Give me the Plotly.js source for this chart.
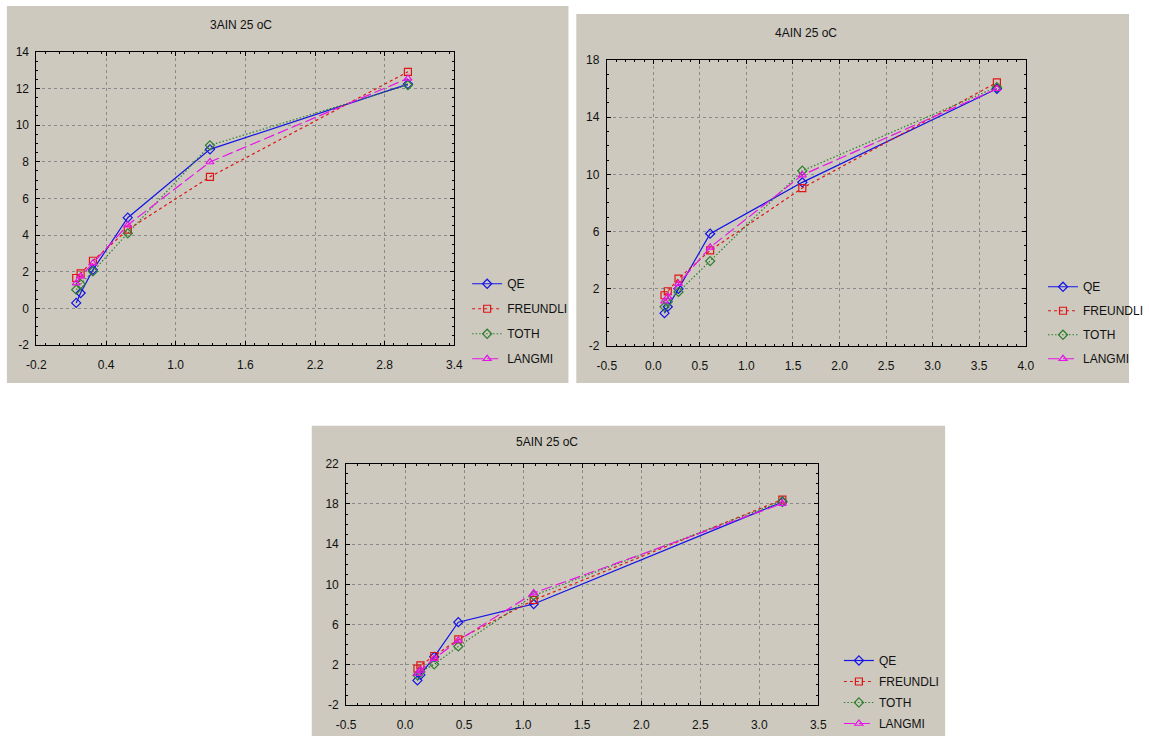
<!DOCTYPE html>
<html>
<head>
<meta charset="utf-8">
<script src="https://cdn.plot.ly/plotly-3.0.1.min.js"></script>
<style>html,body{margin:0;padding:0;background:#fff;}#chart{width:1149px;height:738px;}</style>
</head>
<body>
<div id="chart"></div>
<script>
// ---- data ----
var seriesNames = ["QE", "FREUNDLI", "TOTH", "LANGMI"];
var titles = ["3AIN 25 oC", "4AIN 25 oC", "5AIN 25 oC"];

var p1_x  = [0.143, 0.181, 0.287, 0.587, 1.295, 3.0];
var p1_qe = [0.30, 0.84, 2.10, 4.95, 8.68, 12.24];
var p1_fr = [1.66, 1.91, 2.60, 4.30, 7.18, 12.91];
var p1_to = [1.02, 1.33, 2.02, 4.10, 8.90, 12.19];
var p1_la = [1.38, 1.75, 2.47, 4.55, 7.99, 12.55];

var p2_x  = [0.12, 0.155, 0.27, 0.61, 1.60, 3.69];
var p2_qe = [0.30, 0.75, 2.00, 5.85, 9.44, 15.98];
var p2_fr = [1.55, 1.83, 2.71, 4.68, 9.04, 16.42];
var p2_to = [0.74, 1.09, 1.78, 3.94, 10.25, 16.10];
var p2_la = [1.13, 1.43, 2.36, 4.90, 9.95, 15.98];

var p3_x  = [0.104, 0.129, 0.246, 0.45, 1.089, 3.196];
var p3_qe = [0.45, 1.00, 2.80, 6.24, 8.05, 18.20];
var p3_fr = [1.62, 1.95, 2.88, 4.53, 8.45, 18.44];
var p3_to = [0.96, 1.30, 2.05, 3.83, 8.90, 18.27];
var p3_la = [1.13, 1.46, 2.61, 4.43, 9.14, 18.04];

var x1Ticks = [-0.2, 0.4, 1.0, 1.6, 2.2, 2.8, 3.4];
var y1Ticks = [-2, 0, 2, 4, 6, 8, 10, 12, 14];
var x2Ticks = [-0.5, 0.0, 0.5, 1.0, 1.5, 2.0, 2.5, 3.0, 3.5, 4.0];
var y2Ticks = [-2, 2, 6, 10, 14, 18];
var x3Ticks = [-0.5, 0.0, 0.5, 1.0, 1.5, 2.0, 2.5, 3.0, 3.5];
var y3Ticks = [-2, 2, 6, 10, 14, 18, 22];

// ---- styles ----
var styles = [
  {color: "#1414e6", dash: "solid", symbol: "diamond-open"},
  {color: "#e01414", dash: "3px,3px", symbol: "square-open"},
  {color: "#2f7f2f", dash: "1.5px,2px", symbol: "diamond-open"},
  {color: "#e614e6", dash: "11px,4px", symbol: "triangle-up-open"}
];

var panels = [
  {x: p1_x, ys: [p1_qe, p1_fr, p1_to, p1_la], xa: "x", ya: "y", lg: "legend"},
  {x: p2_x, ys: [p2_qe, p2_fr, p2_to, p2_la], xa: "x2", ya: "y2", lg: "legend2"},
  {x: p3_x, ys: [p3_qe, p3_fr, p3_to, p3_la], xa: "x3", ya: "y3", lg: "legend3"}
];

var traces = [];
panels.forEach(function (p, pi) {
  p.ys.forEach(function (yv, si) {
    var st = styles[si];
    traces.push({
      type: "scatter", mode: "lines+markers",
      x: p.x, y: yv, name: seriesNames[si],
      xaxis: p.xa, yaxis: p.ya, legend: p.lg,
      legendgroup: "g" + pi + "_" + si,
      line: {color: st.color, width: 1.2, dash: st.dash},
      marker: {symbol: st.symbol, size: 7, color: st.color, line: {width: 1.2, color: st.color}}
    });
  });
});

var W = 1149, H = 738;
function px(v) { return v / W; }
function py(v) { return 1 - v / H; }

var fontFam = "Liberation Sans, Arial, sans-serif";
function xAxis(dom, rng, ticks, minorD, anchor) {
  return {
    domain: [px(dom[0]), px(dom[1])], range: rng, anchor: anchor,
    tickmode: "array", tickvals: ticks, ticktext: ticks.map(function (t) { return t.toFixed(1); }),
    ticks: "inside", ticklen: 4, tickcolor: "#000", mirror: "ticks",
    showline: true, linecolor: "#000", linewidth: 1,
    showgrid: true, gridcolor: "#8a8a8a", griddash: "dot", gridwidth: 1,
    zeroline: false, ticklabelstandoff: 9,
    minor: {dtick: minorD, ticks: "inside", ticklen: 2, tickcolor: "#000", showgrid: false},
    tickfont: {family: fontFam, size: 12, color: "#111"}, fixedrange: true
  };
}
function yAxis(dom, rng, ticks, minorD, anchor) {
  return {
    domain: [py(dom[1]), py(dom[0])], range: rng, anchor: anchor,
    tickmode: "array", tickvals: ticks, ticktext: ticks.map(String),
    ticks: "inside", ticklen: 4, tickcolor: "#000", mirror: "ticks",
    showline: true, linecolor: "#000", linewidth: 1,
    showgrid: true, gridcolor: "#8a8a8a", griddash: "dot", gridwidth: 1,
    zeroline: false, ticklabelstandoff: 4,
    minor: {dtick: minorD, ticks: "inside", ticklen: 2, tickcolor: "#000", showgrid: false},
    tickfont: {family: fontFam, size: 12, color: "#111"}, fixedrange: true
  };
}

function legendAt(x, y, gap) {
  return {
    x: px(x), y: py(y), xanchor: "left", yanchor: "top",
    bgcolor: "rgba(0,0,0,0)", borderwidth: 0,
    font: {family: fontFam, size: 12, color: "#111"},
    tracegroupgap: gap, itemwidth: 30, traceorder: "grouped"
  };
}

var bg = "#cdc9bf";
var layout = {
  width: W, height: H,
  margin: {l: 0, r: 0, t: 0, b: 0},
  paper_bgcolor: "#ffffff", plot_bgcolor: "#cccccc",
  showlegend: true,
  xaxis: xAxis([37, 462], [-0.2, 3.4], x1Ticks, 0.12, "y"),
  yaxis: yAxis([52, 346], [-2, 14], y1Ticks, 0.5, "x"),
  xaxis2: xAxis([617, 1043], [-0.5, 4.0], x2Ticks, 0.1, "y2"),
  yaxis2: yAxis([60, 347], [-2, 18], y2Ticks, 1, "x2"),
  xaxis3: xAxis([352, 832], [-0.5, 3.5], x3Ticks, 0.1, "y3"),
  yaxis3: yAxis([465, 707], [-2, 22], y3Ticks, 1, "x3"),
  legend: legendAt(475, 270, 6),
  legend2: legendAt(1061, 273, 5),
  legend3: legendAt(853, 648, 2),
  shapes: [
    {type: "rect", xref: "paper", yref: "paper", x0: px(7), x1: px(578), y0: py(384), y1: py(6), fillcolor: bg, line: {width: 0}, layer: "below"},
    {type: "rect", xref: "paper", yref: "paper", x0: px(586), x1: px(1148), y0: py(384), y1: py(14), fillcolor: bg, line: {width: 0}, layer: "below"},
    {type: "rect", xref: "paper", yref: "paper", x0: px(317), x1: px(961), y0: py(738), y1: py(427), fillcolor: bg, line: {width: 0}, layer: "below"}
  ],
  annotations: [
    {text: titles[0], xref: "paper", yref: "paper", x: px(245), y: py(25), showarrow: false, xanchor: "center", yanchor: "middle", font: {family: fontFam, size: 12, color: "#111"}},
    {text: titles[1], xref: "paper", yref: "paper", x: px(820), y: py(33), showarrow: false, xanchor: "center", yanchor: "middle", font: {family: fontFam, size: 12, color: "#111"}},
    {text: titles[2], xref: "paper", yref: "paper", x: px(556), y: py(443), showarrow: false, xanchor: "center", yanchor: "middle", font: {family: fontFam, size: 12, color: "#111"}}
  ]
};

Plotly.newPlot("chart", traces, layout, {displayModeBar: false, staticPlot: true});
</script>
</body>
</html>
